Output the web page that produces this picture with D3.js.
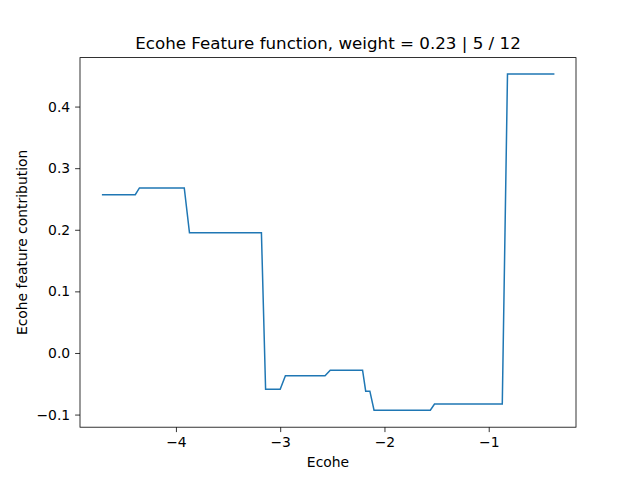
<!DOCTYPE html>
<html><head><meta charset="utf-8">
<script src="https://cdn.jsdelivr.net/npm/d3@7"></script>
<style>body{margin:0;background:#fff}text{font-family:"DejaVu Sans",sans-serif}</style>
</head><body><svg id="c" width="640" height="480"></svg>
<script>
const xs = [-4.71,-4.39,-4.35,-3.92,-3.87,-3.18,-3.14,-3.0,-2.95,-2.57,-2.52,-2.21,-2.18,-2.14,-2.10,-1.56,-1.52,-0.87,-0.82,-0.37];
const ys = [0.257,0.257,0.268,0.268,0.195,0.195,-0.059,-0.059,-0.037,-0.037,-0.028,-0.028,-0.062,-0.062,-0.093,-0.093,-0.083,-0.083,0.453,0.453];
const xTicks = [-4,-3,-2,-1];
const yTicks = [-0.1,0.0,0.1,0.2,0.3,0.4];
const svg = d3.select("#c");
const L=80,R=576,T=57.6,B=427.2;
const x = d3.scaleLinear().domain([-4.92,-0.163]).range([L,R]);
const y = d3.scaleLinear().domain([-0.1205,0.4795]).range([B,T]);
svg.append("path").datum(xs.map((v,i)=>[v,ys[i]]))
  .attr("d",d3.line().x(d=>x(d[0])).y(d=>y(d[1])))
  .attr("fill","none").attr("stroke","#1f77b4").attr("stroke-width",1.5);
const gx = svg.append("g").attr("transform",`translate(0,${B})`)
  .call(d3.axisBottom(x).tickValues(xTicks).tickSize(4.9).tickPadding(4.9).tickFormat(d=>d3.format("")(d).replace("-","−")));
const gy = svg.append("g").attr("transform",`translate(${L},0)`)
  .call(d3.axisLeft(y).tickValues(yTicks).tickSize(4.9).tickPadding(4.9).tickFormat(d=>d3.format(".1f")(d).replace("-","−")));
[gx,gy].forEach(g=>{g.select(".domain").remove();g.selectAll("text").attr("font-size",13.9).attr("fill","#000");g.selectAll("line").attr("stroke","#000").attr("stroke-width",0.8);});
svg.append("rect").attr("x",L).attr("y",T).attr("width",R-L).attr("height",B-T).attr("fill","none").attr("stroke","#000").attr("stroke-width",0.8);
svg.append("text").attr("x",(L+R)/2).attr("y",49).attr("text-anchor","middle").attr("font-size",16.7).text("Ecohe Feature function, weight = 0.23 | 5 / 12");
svg.append("text").attr("x",(L+R)/2).attr("y",467).attr("text-anchor","middle").attr("font-size",13.9).text("Ecohe");
svg.append("text").attr("transform",`translate(27,${(T+B)/2}) rotate(-90)`).attr("text-anchor","middle").attr("font-size",13.9).text("Ecohe feature contribution");
</script></body></html>
